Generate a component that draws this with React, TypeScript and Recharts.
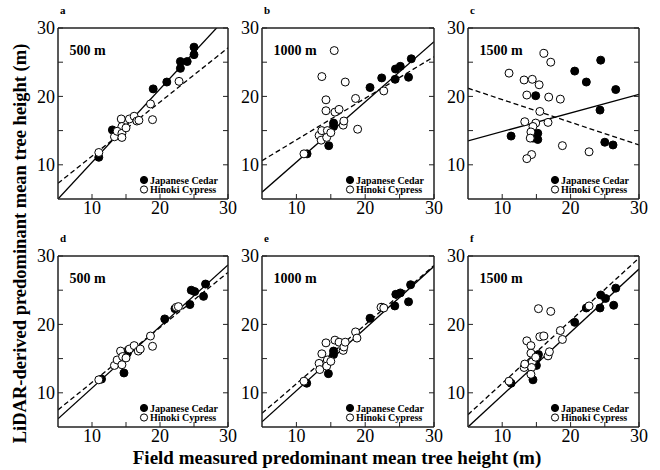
import React from 'react';
import { ScatterChart, Scatter, XAxis, YAxis, ReferenceLine, Legend } from 'recharts';

type Pt = [number, number];

// Field measured (x) vs LiDAR-derived (y) predominant mean tree height (m)
const cedarA: Pt[] = [[11.0,11.1],[13.0,15.1],[19.0,21.1],[21.0,22.1],[23.0,24.1],[23.0,25.1],[24.0,25.1],[25.0,26.1],[25.0,27.2]];
const cypressA: Pt[] = [[11.0,11.8],[13.3,14.1],[14.3,16.7],[14.4,15.6],[13.7,14.9],[14.4,14.6],[14.4,14.0],[15.0,15.4],[15.5,16.7],[16.2,17.1],[16.6,16.4],[16.9,16.5],[18.6,18.9],[18.9,16.6],[22.8,22.2]];

const cedarB: Pt[] = [[11.55,11.6],[14.7,12.8],[15.4,16.1],[15.4,15.6],[20.7,21.3],[22.4,22.7],[24.35,22.5],[24.4,24.0],[25.1,24.4],[26.3,22.8],[26.7,25.5]];
const cypressB: Pt[] = [[11.1,11.6],[13.3,14.3],[13.6,13.6],[13.7,22.9],[14.3,19.5],[14.3,17.9],[13.7,15.0],[14.5,15.0],[14.4,14.0],[15.0,14.7],[15.5,26.7],[15.6,17.7],[16.2,18.1],[16.8,15.8],[16.9,16.4],[17.1,22.1],[18.6,19.7],[18.9,15.2],[22.7,20.8]];

const cedarC: Pt[] = [[11.3,14.2],[14.9,20.1],[14.5,13.9],[15.2,14.6],[15.2,13.7],[20.6,23.7],[22.3,22.1],[24.4,25.3],[24.3,18.0],[25.0,13.3],[26.2,12.9],[26.6,21.0]];
const cypressC: Pt[] = [[11.0,23.4],[13.2,22.4],[13.6,20.2],[13.3,16.3],[14.4,22.5],[15.4,21.7],[16.1,26.3],[17.1,25.0],[16.8,19.9],[18.5,19.6],[15.5,17.8],[14.9,16.1],[14.5,15.6],[14.2,14.8],[14.1,13.9],[16.7,16.2],[18.8,12.8],[14.3,11.5],[13.6,10.9],[22.7,11.9]];

const cedarD: Pt[] = [[11.4,12.0],[14.7,12.9],[15.3,16.2],[15.2,15.8],[20.7,20.8],[22.2,22.3],[24.4,22.9],[24.6,25.0],[25.1,24.8],[26.4,24.1],[26.7,25.9]];
const cypressD: Pt[] = [[11.0,11.9],[13.3,14.0],[13.7,14.8],[14.2,16.1],[14.5,15.3],[14.4,14.1],[15.0,15.1],[15.5,16.4],[16.2,16.9],[16.8,16.1],[17.1,16.4],[18.6,18.3],[18.9,16.8],[22.4,22.5],[22.7,22.6]];

const cedarE: Pt[] = [[11.5,11.4],[14.65,12.8],[15.4,16.1],[15.4,15.6],[20.7,20.9],[22.4,22.5],[24.3,22.7],[24.45,24.4],[25.1,24.6],[26.3,23.3],[26.6,25.8]];
const cypressE: Pt[] = [[11.1,11.7],[13.3,14.3],[13.4,13.4],[13.7,15.7],[14.3,17.3],[14.5,14.8],[14.4,13.9],[15.0,14.6],[15.6,17.7],[16.2,17.4],[16.8,16.2],[16.9,16.7],[17.1,17.4],[18.6,18.9],[18.8,18.0],[22.3,22.5],[22.7,22.4]];

const cedarF: Pt[] = [[11.3,11.4],[14.5,11.9],[15.0,14.0],[15.3,15.6],[15.1,15.1],[20.6,20.3],[22.3,22.4],[24.3,22.4],[24.4,24.3],[25.1,23.8],[26.3,22.8],[26.6,25.3]];
const cypressF: Pt[] = [[11.0,11.7],[13.2,13.7],[13.3,14.2],[13.6,17.6],[14.2,16.9],[14.2,15.8],[14.4,14.5],[14.3,13.7],[14.2,12.7],[14.9,15.2],[15.3,22.3],[15.5,18.2],[16.1,18.3],[16.7,15.4],[16.9,16.0],[17.1,21.9],[18.5,19.1],[18.8,17.8],[22.7,22.7]];

// Regression lines: fitted y at x = 5 and at x = 30
const cedarFits: Pt[] = [[5.0,31.8],[6.0,28.0],[13.5,20.3],[6.2,28.7],[5.75,28.5],[5.0,28.1]];
const cypressFits: Pt[] = [[7.3,27.1],[10.6,25.8],[21.2,12.9],[7.5,27.6],[7.0,28.6],[6.8,29.7]];

const panelLetters = ['a', 'b', 'c', 'd', 'e', 'f'];
const panelScales = ['500 m', '1000 m', '1500 m', '500 m', '1000 m', '1500 m'];
const speciesNames = ['Japanese Cedar', 'Hinoki Cypress'];
const cedarSets = [cedarA, cedarB, cedarC, cedarD, cedarE, cedarF];
const cypressSets = [cypressA, cypressB, cypressC, cypressD, cypressE, cypressF];
const axisTicks = [10, 15, 20, 25, 30];
const labelledTicks = [10, 20, 30];
const axisDomain = [5, 30];
const xTitle = 'Field measured predominant mean tree height (m)';
const yTitle = 'LiDAR-derived predominant mean tree height (m)';

const FONT = '"Liberation Serif", "Times New Roman", Times, serif';

const boxes = [
  { left: 58, top: 28, w: 170, h: 171 },
  { left: 262, top: 28, w: 172, h: 171 },
  { left: 468, top: 28, w: 171, h: 171 },
  { left: 58, top: 256, w: 170, h: 171 },
  { left: 262, top: 256, w: 172, h: 171 },
  { left: 468, top: 256, w: 171, h: 171 },
];

const toPts = (arr: Pt[]) => arr.map(([x, y]) => ({ x, y }));
const fmt = (v: number) => (labelledTicks.includes(v) ? String(v) : '');
const blank = () => '';

const filledDot = (p: any) => <circle cx={p.cx} cy={p.cy} r={4} fill="#000" stroke="#000" strokeWidth={1} />;
const openDot = (p: any) => <circle cx={p.cx} cy={p.cy} r={4} fill="#fff" stroke="#000" strokeWidth={1} />;

const LegendBox = (props: any) => {
  const payload = [...(props.payload || [])].sort(
    (a: any, b: any) => speciesNames.indexOf(a.value) - speciesNames.indexOf(b.value)
  );
  return (
    <svg width={90} height={22} style={{ display: 'block', overflow: 'visible' }}>
      {payload.map((entry: any, i: number) => (
        <g key={i}>
          <circle cx={5} cy={5 + i * 9.5} r={3.6} fill={entry.value === speciesNames[0] ? '#000' : '#fff'} stroke="#000" strokeWidth={1} />
          <text x={11} y={8.5 + i * 9.5} fontSize={10} fontWeight="bold" fontFamily={FONT} fill="#000">{entry.value}</text>
        </g>
      ))}
    </svg>
  );
};

const tickStyle = { fontSize: 18, fill: '#000', fontFamily: FONT };
const axisLineStyle = { stroke: '#222', strokeWidth: 1.5 };
const tickLineStyle = { stroke: '#222', strokeWidth: 1 };

function Panel({ i }: { i: number }) {
  const b = boxes[i];
  const W = b.w + 70;
  const H = b.h + 28 + 25;
  return (
    <div style={{ position: 'absolute', left: b.left - 50, top: b.top - 28, width: W, height: H }}>
      <ScatterChart width={W} height={H} margin={{ top: 18, left: 20, right: 10, bottom: 0 }}>
        <XAxis xAxisId="b" type="number" dataKey="x" domain={axisDomain} ticks={axisTicks} allowDataOverflow
          orientation="bottom" height={25} tickSize={-5} tickMargin={7} tickFormatter={fmt}
          tick={tickStyle} axisLine={axisLineStyle} tickLine={tickLineStyle} interval={0} />
        <XAxis xAxisId="t" type="number" domain={axisDomain} ticks={axisTicks} allowDataOverflow
          orientation="top" height={10} tickSize={-5} tickMargin={0} tickFormatter={blank}
          tick={tickStyle} axisLine={axisLineStyle} tickLine={tickLineStyle} interval={0} />
        <YAxis yAxisId="l" type="number" dataKey="y" domain={axisDomain} ticks={axisTicks} allowDataOverflow
          orientation="left" width={30} tickSize={-5} tickMargin={8} tickFormatter={fmt}
          tick={tickStyle} axisLine={axisLineStyle} tickLine={tickLineStyle} interval={0} />
        <YAxis yAxisId="r" type="number" domain={axisDomain} ticks={axisTicks} allowDataOverflow
          orientation="right" width={10} tickSize={-5} tickMargin={0} tickFormatter={blank}
          tick={tickStyle} axisLine={axisLineStyle} tickLine={tickLineStyle} interval={0} />
        <ReferenceLine xAxisId="b" yAxisId="l" ifOverflow="hidden" stroke="#000" strokeWidth={1.3}
          segment={[{ x: 5, y: cedarFits[i][0] }, { x: 30, y: cedarFits[i][1] }]} />
        <ReferenceLine xAxisId="b" yAxisId="l" ifOverflow="hidden" stroke="#000" strokeWidth={1.3} strokeDasharray="5 3"
          segment={[{ x: 5, y: cypressFits[i][0] }, { x: 30, y: cypressFits[i][1] }]} />
        <Scatter xAxisId="b" yAxisId="l" name={speciesNames[0]} data={toPts(cedarSets[i])} fill="#000"
          shape={filledDot} isAnimationActive={false} legendType="circle" />
        <Scatter xAxisId="b" yAxisId="l" name={speciesNames[1]} data={toPts(cypressSets[i])} fill="#fff"
          shape={openDot} isAnimationActive={false} legendType="circle" />
        <Legend layout="vertical" align="center" verticalAlign="middle" content={LegendBox}
          wrapperStyle={{ position: 'absolute', left: 50 + b.w - 89, top: 28 + b.h - 24, width: 90, height: 22 }} />
      </ScatterChart>
    </div>
  );
}

export default function App() {
  return (
    <div style={{ position: 'absolute', left: 0, top: 0, width: 660, height: 470, background: '#fff', overflow: 'hidden' }}>
      {boxes.map((_, i) => <Panel key={i} i={i} />)}
      <svg width={660} height={470} style={{ position: 'absolute', left: 0, top: 0, pointerEvents: 'none' }}>
        {boxes.map((b, i) => (
          <g key={i} fontFamily={FONT} fontWeight="bold" fill="#000">
            <text x={b.left + 2} y={b.top - 14} fontSize={11}>{panelLetters[i]}</text>
            <text x={b.left + 11.5} y={b.top + 27} fontSize={14}>{panelScales[i]}</text>
          </g>
        ))}
        <text x={337} y={464} textAnchor="middle" fontFamily={FONT} fontWeight="bold" fontSize={19} fill="#000">{xTitle}</text>
        <text transform="translate(26,243.5) rotate(-90)" textAnchor="middle" fontFamily={FONT} fontWeight="bold" fontSize={18.5} fill="#000">{yTitle}</text>
      </svg>
    </div>
  );
}
